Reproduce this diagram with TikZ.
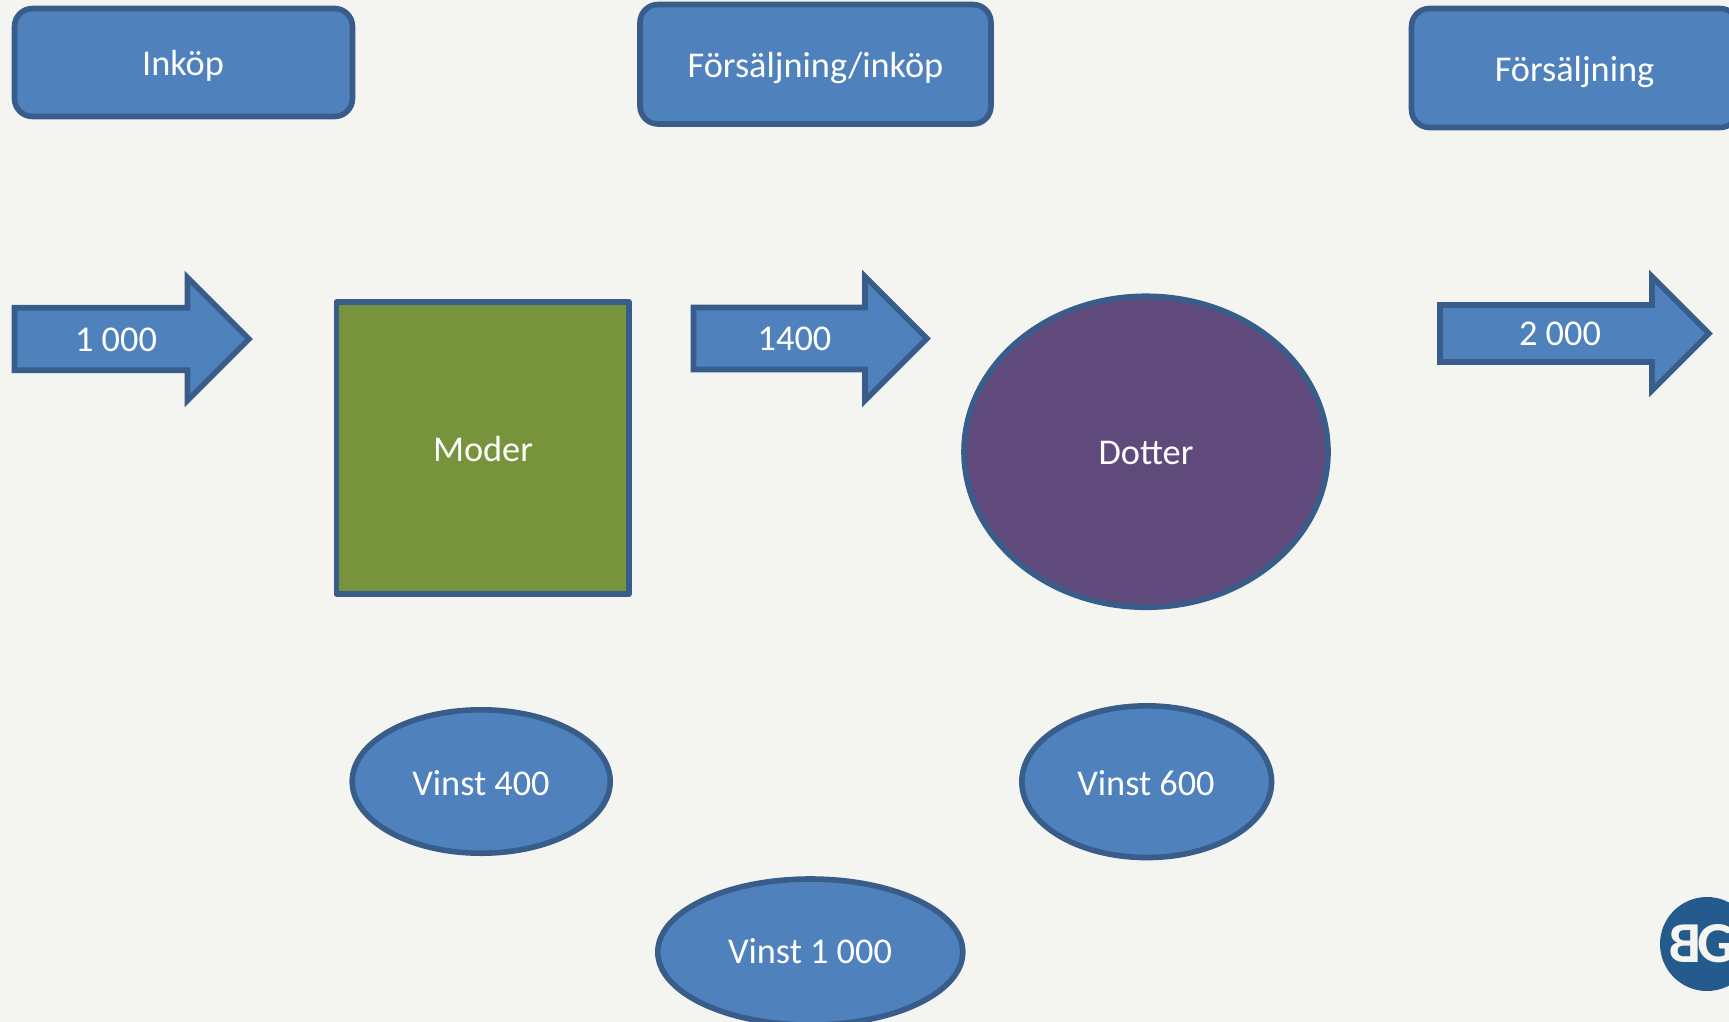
\documentclass[tikz,border=0pt]{standalone}
\usepackage{fontspec}
\setmainfont{Carlito}
\usetikzlibrary{shapes.geometric, positioning}
\definecolor{bgpaper}{HTML}{F4F5F0}
\definecolor{boxblue}{HTML}{4F81BD}
\definecolor{edgeblue}{HTML}{385D8A}
\definecolor{modergreen}{HTML}{77933C}
\definecolor{dotterpurple}{HTML}{604A7B}
\definecolor{logoblue}{HTML}{245B8C}
\tikzset{
  shapeedge/.style={draw=edgeblue, line width=2.8pt, inner sep=0pt},
  headbox/.style={shapeedge, fill=boxblue, rounded corners=9pt},
  profit/.style={shapeedge, fill=boxblue, ellipse},
  tag/.style={anchor=base, text=white, inner sep=0pt, font=\fontsize{18.15}{22}\selectfont},
}
\newcommand{\flowarrow}[8]{ % #1: name, #2: left x, #3: centre y, #4: shaft half height, #5: head x, #6: head half height, #7: label point, #8: label
  \draw[shapeedge, fill=boxblue, miter limit=10] (#2,#3-#4) -- (#5,#3-#4) -- (#5,#3-#6) -- (#5+#6,#3) -- (#5,#3+#6) -- (#5,#3+#4) -- (#2,#3+#4) -- cycle;
  \node[tag] (#1) at (#7) {#8};
}
\begin{document}
\begin{tikzpicture}[x=0.5pt,y=-0.5pt]
\useasboundingbox (0,0) rectangle (1729,1022);
\clip (0,0) rectangle (1729,1022);
\fill[bgpaper] (0,0) rectangle (1729,1022);

% Headings
\node[headbox, minimum width=169pt, minimum height=54pt] (inkop) at (183.5,62.5) {};
\node[tag] (inkoptext) at (183,76) {Inköp};
\node[headbox, minimum width=175.5pt, minimum height=59.75pt] (mellan) at (815.5,64.25) {};
\node[tag] (mellantext) at (815.5,78) {Försäljning/inköp};
\node[headbox, minimum width=163.25pt, minimum height=59.5pt] (salj) at (1574.75,68) {};
\node[tag] (saljtext) at (1574.5,81.5) {Försäljning};

% Arrows with the amounts
\flowarrow{pilett}{14.5}{339}{31.25}{187.5}{61.5}{116,351.5}{1 000}
\flowarrow{piltva}{693.5}{338.5}{31}{865}{62}{794.5,350.5}{1400}
\flowarrow{piltre}{1440}{333.5}{28.5}{1652}{57}{1560,345}{2 000}

% The two companies
\node[shapeedge, fill=modergreen, line join=round, minimum width=146.25pt, minimum height=146pt] (moder) at (482.75,448) {};
\node[tag] (modertext) at (483,461) {Moder};
\node[shapeedge, fill=dotterpurple, ellipse, minimum width=182pt, minimum height=155.5pt] (dotter) at (1146,451.75) {};
\node[tag] (dottertext) at (1146,464.5) {Dotter};

% Profits
\node[profit, minimum width=129pt, minimum height=71.7pt] (vinstm) at (481.2,781.5) {};
\node[tag] (vinstmtext) at (481,795) {Vinst 400};
\node[profit, minimum width=124.85pt, minimum height=75.85pt] (vinstd) at (1146.7,781.7) {};
\node[tag] (vinstdtext) at (1146,795) {Vinst 600};
\node[profit, minimum width=152.5pt, minimum height=73pt] (vinsttot) at (810.3,952) {};
\node[tag] (vinsttottext) at (810,963.5) {Vinst 1 000};

% Logo in the corner
\node[circle, fill=logoblue, inner sep=0pt, minimum size=47pt] (logo) at (1707,944) {};
\node[anchor=base west, text=bgpaper, inner sep=0pt, font=\fontsize{29}{30}\selectfont\bfseries] (logotext) at (1669,962) {\reflectbox{B}\kern-2ptG};

\end{tikzpicture}
\end{document}
